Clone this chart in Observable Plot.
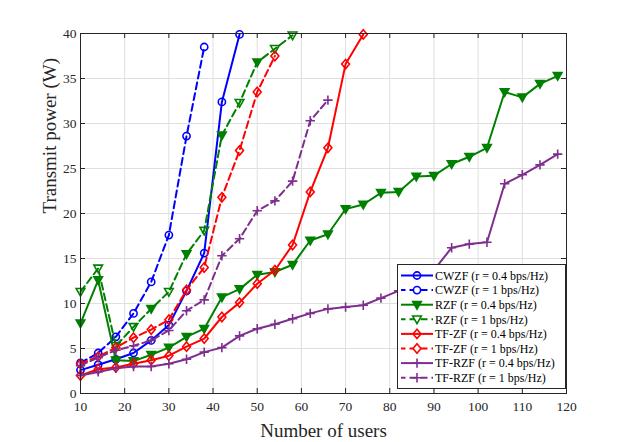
<!DOCTYPE html>
<html>
<head>
<meta charset="utf-8">
<script src="https://cdn.jsdelivr.net/npm/d3@7"></script>
<script src="https://cdn.jsdelivr.net/npm/@observablehq/plot@0.6"></script>
<style>
  body { margin: 0; background: #fff; }
  #wrap { position: relative; width: 623px; height: 442px; font-family: "Liberation Serif", "Times New Roman", serif; }
  #legend { position: absolute; left: 397px; top: 264px; }
</style>
</head>
<body>
<div id="wrap"></div>
<script>
// ---- data ----
const users = [10,14,18,22,26,30,34,38,42,46,50,54,58,62,66,70,74,78,82,86,90,94,98,102,106,110,114,118];
const xTicks = [10,20,30,40,50,60,70,80,90,100,110,120];
const yTicks = [0,5,10,15,20,25,30,35,40];

const cwzf04 = [2.6,3.2,3.8,4.5,5.9,7.6,11.4,15.6,32.4,39.9];
const cwzf1  = [3.4,4.5,6.3,8.9,12.4,17.6,28.6,38.5];
const rzf04  = [7.8,12.6,3.7,3.6,4.3,5.1,6.3,7.2,10.7,11.6,13.2,13.5,14.3,17.0,17.7,20.5,21.0,22.3,22.4,24.1,24.2,25.5,26.3,27.3,33.5,32.9,34.4,35.3];
const rzf1   = [11.3,13.9,5.3,7.4,9.4,11.3,15.5,18.1,28.7,32.3,36.8,38.3,39.8];
const rzf1Filled = [26,34,42,50];
const tfzf04 = [2.0,2.7,2.9,3.3,3.7,4.2,5.2,6.1,8.5,10.1,12.2,13.7,16.5,22.4,27.3,36.6,39.9];
const tfzf1  = [3.3,4.1,5.1,6.2,7.1,8.2,11.5,14.0,21.8,27.0,33.5,37.5];
const tfrzf04 = [2.0,2.4,2.8,3.0,3.0,3.3,3.8,4.6,5.1,6.4,7.2,7.7,8.3,8.9,9.4,9.6,9.8,10.6,11.4,12.3,13.7,16.2,16.6,16.8,23.3,24.3,25.4,26.6];
const tfrzf1  = [3.1,4.0,4.8,5.3,5.9,7.0,9.2,10.4,15.3,17.2,20.3,21.4,23.6,30.3,32.6];

const labels = [
  "CWZF (r = 0.4 bps/Hz)", "CWZF (r = 1 bps/Hz)",
  "RZF (r = 0.4 bps/Hz)", "RZF (r = 1 bps/Hz)",
  "TF-ZF (r = 0.4 bps/Hz)", "TF-ZF (r = 1 bps/Hz)",
  "TF-RZF (r = 0.4 bps/Hz)", "TF-RZF (r = 1 bps/Hz)"
];

// ---- styles ----
const BLUE = "#0000ff", GREEN = "#008000", RED = "#ff0000", PURPLE = "#7e2f8e";
const DASH = "7,4";

const triDown = {draw(ctx, size) { const r = Math.sqrt(size / Math.PI); ctx.moveTo(-r*1.2, -r*0.9); ctx.lineTo(r*1.2, -r*0.9); ctx.lineTo(0, r*1.2); ctx.closePath(); }};
const diamond = {draw(ctx, size) { const r = Math.sqrt(size / Math.PI); ctx.moveTo(0, -r*1.3); ctx.lineTo(r*1.1, 0); ctx.lineTo(0, r*1.3); ctx.lineTo(-r*1.1, 0); ctx.closePath(); }};
const plus = {draw(ctx, size) { const r = Math.sqrt(size / Math.PI) * 1.3; ctx.moveTo(-r, 0); ctx.lineTo(r, 0); ctx.moveTo(0, -r); ctx.lineTo(0, r); }};
const circle = {draw(ctx, size) { const r = Math.sqrt(size / Math.PI); ctx.moveTo(r, 0); ctx.arc(0, 0, r, 0, 2*Math.PI); }};

const series = [
  {values: cwzf04, color: BLUE, dash: null, sym: circle, filled: []},
  {values: cwzf1, color: BLUE, dash: DASH, sym: circle, filled: []},
  {values: rzf04, color: GREEN, dash: null, sym: triDown, filled: users},
  {values: rzf1, color: GREEN, dash: DASH, sym: triDown, filled: rzf1Filled},
  {values: tfzf04, color: RED, dash: null, sym: diamond, filled: []},
  {values: tfzf1, color: RED, dash: DASH, sym: diamond, filled: []},
  {values: tfrzf04, color: PURPLE, dash: null, sym: plus, filled: []},
  {values: tfrzf1, color: PURPLE, dash: DASH, sym: plus, filled: []}
];

const W = 623, H = 442, mL = 80, mR = 57, mT = 33, mB = 49;
const innerW = W - mL - mR, innerH = H - mT - mB;
const INK = "#262626";

const marks = [
  Plot.gridX(xTicks, {stroke: "#dfdfdf", strokeOpacity: 1}),
  Plot.gridY(yTicks, {stroke: "#dfdfdf", strokeOpacity: 1})
];

for (const s of series) {
  const rows = s.values.map((v, i) => ({x: users[i], y: v}));
  const fillSet = new Set(s.filled);
  marks.push(Plot.line(rows, {x: "x", y: "y", stroke: s.color, strokeWidth: 2, strokeDasharray: s.dash || undefined}));
  marks.push(Plot.dot(rows.filter(d => !fillSet.has(d.x)), {x: "x", y: "y", symbol: s.sym, r: 3.6, stroke: s.color, strokeWidth: 1.6, fill: "none"}));
  marks.push(Plot.dot(rows.filter(d => fillSet.has(d.x)), {x: "x", y: "y", symbol: s.sym, r: 3.6, stroke: s.color, strokeWidth: 1.6, fill: s.color}));
}

marks.push(
  Plot.frame({stroke: INK, strokeWidth: 1}),
  Plot.tickX(xTicks, {x: d => d, insetTop: innerH - 5, stroke: INK}),
  Plot.tickX(xTicks, {x: d => d, insetBottom: innerH - 5, stroke: INK}),
  Plot.tickY(yTicks, {y: d => d, insetRight: innerW - 5, stroke: INK}),
  Plot.tickY(yTicks, {y: d => d, insetLeft: innerW - 5, stroke: INK}),
  Plot.axisX(xTicks, {tickSize: 0, tickPadding: 8, fontSize: 13.5, label: null, color: INK}),
  Plot.axisY(yTicks, {tickSize: 0, tickPadding: 4, fontSize: 13.5, label: null, color: INK}),
  Plot.text(["Number of users"], {text: d => d, frameAnchor: "bottom", dy: 37, fontSize: 19, fill: INK, lineAnchor: "middle"}),
  Plot.text(["Transmit power (W)"], {text: d => d, frameAnchor: "left", dx: -31, rotate: -90, fontSize: 19, fill: INK, lineAnchor: "middle"})
);

const chart = Plot.plot({
  width: W, height: H,
  marginLeft: mL, marginRight: mR, marginTop: mT, marginBottom: mB,
  x: {domain: [10, 120]},
  y: {domain: [0, 40]},
  style: {fontFamily: "'Liberation Serif', 'Times New Roman', serif", background: "white", color: INK, overflow: "visible"},
  marks
});

const wrap = document.getElementById("wrap");
wrap.appendChild(chart);

// ---- legend (inside plot area, bottom right) ----
const LW = 169, LH = 125, rowH = 14.6;
const lg = d3.select(wrap).append("svg").attr("id", "legend").attr("width", LW).attr("height", LH);
lg.append("rect").attr("x", 0.5).attr("y", 0.5).attr("width", LW - 1).attr("height", LH - 1)
  .attr("fill", "white").attr("stroke", INK).attr("stroke-width", 1);
series.forEach((s, i) => {
  const cy = 11.5 + i * rowH;
  const g = lg.append("g");
  g.append("line").attr("x1", 4).attr("x2", 36).attr("y1", cy).attr("y2", cy)
    .attr("stroke", s.color).attr("stroke-width", 2).attr("stroke-dasharray", s.dash ? "7,4" : null)
    .attr("stroke-dashoffset", s.dash ? 2.5 : null);
  const filled = s.filled === users;
  g.append("path").attr("d", d3.symbol().type(s.sym).size(3.6 * 3.6 * Math.PI)())
    .attr("transform", `translate(20,${cy})`)
    .attr("fill", filled ? s.color : (s.dash ? "white" : "none"))
    .attr("stroke", s.color).attr("stroke-width", 1.6);
  g.append("text").attr("x", 38).attr("y", cy).attr("dy", "0.35em")
    .attr("font-size", 12).attr("fill", "#000")
    .attr("font-family", "'Liberation Serif', 'Times New Roman', serif")
    .text(labels[i]);
});
</script>
</body>
</html>
